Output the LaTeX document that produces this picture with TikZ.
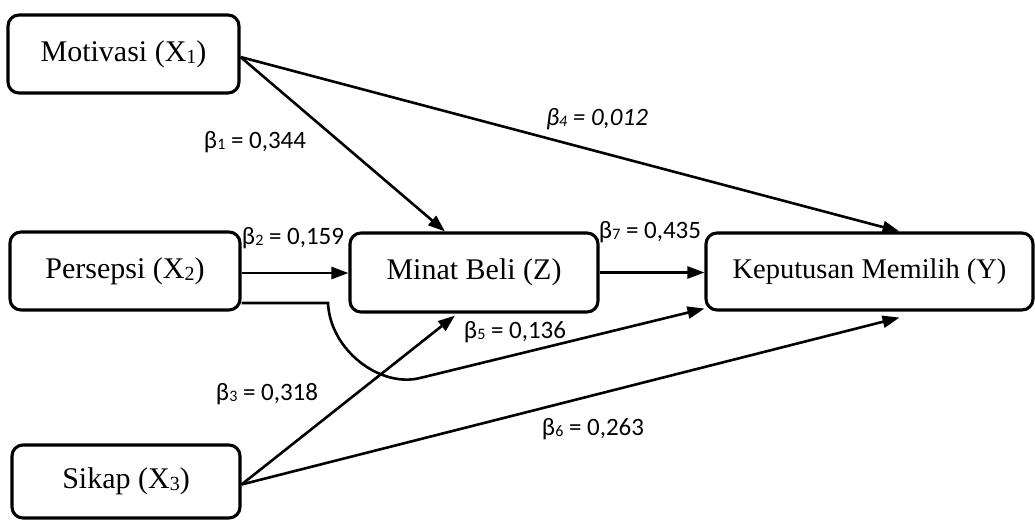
\documentclass[tikz,border=0pt]{standalone}
\usepackage{fontspec}
\setmainfont{Liberation Serif}
\newfontfamily\lblfont{Carlito}
\usetikzlibrary{arrows.meta}
\newcommand\bsub[1]{\raisebox{-2pt}{\fontsize{20}{20}\selectfont #1}}
\newcommand\lsub[1]{\raisebox{-1pt}{\fontsize{16}{16}\selectfont #1}}
\tikzset{
  boxnode/.style={draw, line width=3.1pt, rounded corners=11pt, inner sep=0pt,
    font=\fontsize{30}{36}\selectfont},
  arr/.style={line width=2.6pt, -{Triangle[length=17pt,width=12pt]}},
  lbl/.style={font=\lblfont\fontsize{25}{30}\selectfont, inner sep=0pt}
}
\begin{document}
\begin{tikzpicture}[x=1pt,y=-1pt]
\useasboundingbox (0,0) rectangle (1035,520);
\node[boxnode, minimum width=231pt, minimum height=78pt] (mot) at (123.5,54) {Motivasi (X\bsub{1})};
\node[boxnode, minimum width=230pt, minimum height=78pt] (per) at (125,271) {Persepsi (X\bsub{2})};
\node[boxnode, minimum width=228pt, minimum height=73pt] (sik) at (126,481.5) {Sikap (X\bsub{3})};
\node[boxnode, minimum width=248pt, minimum height=79pt] (min) at (474,272.5) {Minat Beli (Z)};
\node[boxnode, minimum width=327pt, minimum height=77pt, font=\fontsize{28.5}{34}\selectfont] (kep) at (869.5,271.5) {Keputusan Memilih (Y)};

\draw[arr] ([yshift=-3pt]mot.east) -- ([xshift=-29pt]min.north);
\draw[arr] ([yshift=-3pt]mot.east) -- ([xshift=30pt]kep.north);
\draw[arr] ([yshift=-2pt]per.east) -- ([yshift=-2pt]per.east -| min.west);
\draw[arr] ([yshift=-32pt]per.east) -- (328,303) .. controls (330,350) and (380,388) .. (420,378) -- ([yshift=3pt]kep.south west);
\draw[arr] ([yshift=-3pt]sik.east) -- ([xshift=-19pt,yshift=-2pt]min.south);
\draw[arr] ([yshift=-3pt]sik.east) -- ([xshift=30pt,yshift=-6pt]kep.south);
\draw[arr] (min.east) -- (min.east -| kep.west);

\node[lbl] (b1) at (255,142) {β\lsub{1} = 0,344};
\node[lbl] (b2) at (293,238) {β\lsub{2} = 0,159};
\node[lbl] (b3) at (267,394) {β\lsub{3} = 0,318};
\node[lbl, font=\lblfont\itshape\fontsize{25}{30}\selectfont] (b4) at (597,119) {β\lsub{4} = 0,012};
\node[lbl] (b5) at (515,332) {β\lsub{5} = 0,136};
\node[lbl] (b6) at (593,429) {β\lsub{6} = 0,263};
\node[lbl] (b7) at (650,232) {β\lsub{7} = 0,435};
\end{tikzpicture}
\end{document}
